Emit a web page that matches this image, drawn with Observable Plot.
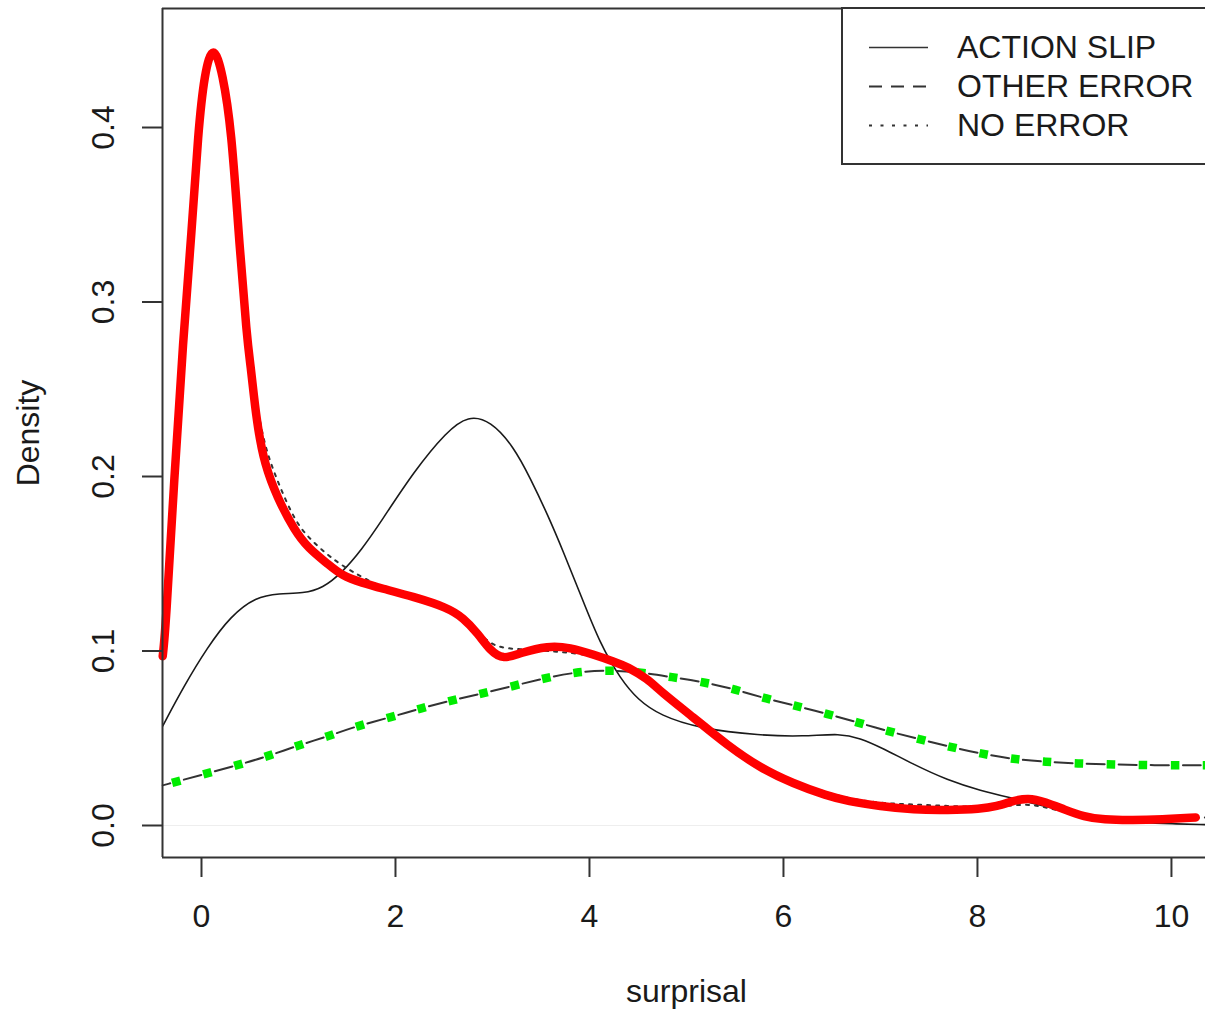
<!DOCTYPE html>
<html><head><meta charset="utf-8">
<script src="https://cdn.jsdelivr.net/npm/d3@7"></script>
<script src="https://cdn.jsdelivr.net/npm/@observablehq/plot@0.6"></script>
<style>
html,body{margin:0;padding:0;background:#fff;overflow:hidden}
#wrap{position:relative;width:1205px;height:1012px;overflow:hidden;font-family:"Liberation Sans",Arial,Helvetica,sans-serif}
#wrap svg{display:block}
</style></head><body><div id="wrap"></div>
<script>
// ---- data ----
const xTicks = [0, 2, 4, 6, 8, 10];
const yTicks = [0, 0.1, 0.2, 0.3, 0.4];
const xDomain = [-0.402, 10.351];
const yDomain = [-0.01834, 0.4682];
const seriesNames = ["ACTION SLIP", "OTHER ERROR", "NO ERROR"];

const actionX = [-0.4,-0.18,0.06,0.3,0.56,0.8,1.05,1.25,1.45,1.65,1.85,2.19,2.53,2.75,2.98,3.22,3.39,3.57,3.73,3.91,4.11,4.32,4.5,4.73,5.14,5.76,6.2,6.59,6.79,7.0,7.34,7.69,8.03,8.37,8.7,9.05,9.4,9.7,10.0,10.35];
const actionY = [0.057,0.080,0.102,0.120,0.131,0.133,0.133,0.136,0.145,0.158,0.174,0.203,0.226,0.235,0.232,0.217,0.199,0.178,0.157,0.132,0.104,0.084,0.072,0.063,0.0555,0.0516,0.051,0.0528,0.050,0.045,0.035,0.026,0.020,0.0155,0.011,0.006,0.003,0.0016,0.001,0.0005];

const otherX = [-0.4,0,0.4,0.7,1.0,1.3,1.6,1.95,2.25,2.6,3.0,3.5,3.86,4.2,4.5,4.85,5.2,5.5,5.8,6.1,6.45,6.77,7.08,7.4,7.72,8.05,8.37,8.7,9.03,9.4,9.8,10.35];
const otherY = [0.023,0.029,0.035,0.040,0.046,0.051,0.057,0.062,0.067,0.072,0.077,0.084,0.088,0.089,0.088,0.085,0.082,0.078,0.073,0.069,0.064,0.059,0.054,0.0495,0.045,0.041,0.038,0.0365,0.0355,0.035,0.0345,0.0345];

const noErrX = [-0.4,-0.37,-0.28,-0.19,-0.10,-0.034,0.03,0.12,0.22,0.31,0.38,0.47,0.51,0.55,0.6,0.67,0.8,0.96,1.1,1.3,1.45,1.66,2.0,2.3,2.5,2.7,2.85,3.01,3.29,3.57,3.91,4.08,4.25,4.39,4.6,4.73,5.07,5.42,5.76,6.1,6.45,6.66,7.0,7.34,7.7,8.03,8.3,8.55,8.8,9.1,9.4,9.8,10.35];
const noErrY = [0.097,0.112,0.2,0.278,0.341,0.398,0.431,0.449,0.431,0.398,0.345,0.282,0.266,0.249,0.232,0.214,0.195,0.175,0.165,0.155,0.149,0.142,0.133,0.128,0.125,0.121,0.111,0.102,0.101,0.100,0.0986,0.096,0.093,0.090,0.084,0.077,0.062,0.046,0.033,0.025,0.019,0.0155,0.0128,0.012,0.0112,0.0105,0.0112,0.0125,0.009,0.0055,0.004,0.0038,0.0046];

const redX = [-0.4,-0.37,-0.28,-0.19,-0.10,-0.034,0.03,0.12,0.22,0.31,0.38,0.47,0.51,0.54,0.58,0.65,0.78,0.96,1.1,1.30,1.45,1.66,1.85,2.19,2.53,2.70,2.85,2.98,3.11,3.29,3.57,3.8,4.04,4.25,4.39,4.6,4.73,5.07,5.42,5.76,6.1,6.45,6.66,7.0,7.34,7.7,8.03,8.2,8.36,8.52,8.7,8.9,9.1,9.3,9.6,9.9,10.25];
const redY = [0.097,0.112,0.2,0.278,0.341,0.398,0.431,0.449,0.431,0.398,0.341,0.278,0.262,0.246,0.228,0.207,0.188,0.169,0.159,0.150,0.143,0.139,0.136,0.131,0.125,0.119,0.110,0.100,0.095,0.099,0.103,0.102,0.098,0.094,0.091,0.084,0.077,0.062,0.046,0.033,0.024,0.017,0.014,0.011,0.009,0.0088,0.0095,0.011,0.014,0.016,0.0135,0.009,0.005,0.0033,0.003,0.0035,0.0046];

const toRows = (xs, ys) => xs.map((x, i) => ({x, y: ys[i]}));
const action = toRows(actionX, actionY);
const other = toRows(otherX, otherY);
const noErr = toRows(noErrX, noErrY);
const red = toRows(redX, redY);

const FONT = '"Liberation Sans", Arial, Helvetica, sans-serif';
const CURVE = "basis";

const chart = Plot.plot({
  width: 1205, height: 1012,
  marginLeft: 162, marginRight: 0, marginTop: 8, marginBottom: 155,
  style: {fontFamily: FONT, fontSize: "32px", color: "#1a1a1a", background: "transparent"},
  x: {domain: xDomain},
  y: {domain: yDomain},
  marks: [
    Plot.ruleY([0], {stroke: "#eeeeee", strokeWidth: 1}),
    Plot.line(action, {x: "x", y: "y", stroke: "#1a1a1a", strokeWidth: 1.6, curve: CURVE}),
    Plot.line(other, {x: "x", y: "y", stroke: "#333", strokeWidth: 2, strokeDasharray: "18 14", strokeDashoffset: 10, curve: CURVE}),
    Plot.line(noErr, {x: "x", y: "y", stroke: "#333", strokeWidth: 2, strokeDasharray: "3 6", curve: CURVE}),
    Plot.line(other, {x: "x", y: "y", stroke: "#00ec00", strokeWidth: 8.5, strokeDasharray: "8.5 23.5", strokeDashoffset: 22, strokeLinecap: "butt", curve: CURVE}),
    Plot.line(red, {x: "x", y: "y", stroke: "#ff0000", strokeWidth: 8.5, strokeLinecap: "round", strokeLinejoin: "round", curve: CURVE}),
    Plot.ruleX([xDomain[0]], {stroke: "#333", strokeWidth: 2}),
    Plot.ruleY(yDomain, {stroke: "#333", strokeWidth: 2}),
    Plot.axisX({ticks: xTicks, tickSize: 20, tickPadding: 27, tickFormat: d => String(d), label: null, fontSize: 32, strokeWidth: 2, stroke: "#333"}),
    Plot.axisY({ticks: yTicks, tickSize: 20, tickPadding: 29, tickRotate: -90, tickFormat: d3.format(".1f"), label: null, fontSize: 32, strokeWidth: 2, stroke: "#333"}),
    Plot.text(["surprisal"], {text: d => d, frameAnchor: "bottom", dy: 144, dx: 2.5, lineAnchor: "bottom", textAnchor: "middle", fontSize: 32, fill: "#1a1a1a"}),
    Plot.text(["Density"], {text: d => d, frameAnchor: "left", dx: -124, rotate: -90, lineAnchor: "bottom", textAnchor: "middle", fontSize: 32, fill: "#1a1a1a"})
  ]
});
document.getElementById("wrap").appendChild(chart);

// ---- legend (R-style box, top right, extends past the edge) ----
const legendDash = [null, "13 9", "3 8.5"];
const legendWidth = [1.6, 2, 2];
const leg = d3.select("#wrap").append("svg")
  .attr("width", 1205).attr("height", 1012)
  .style("position", "absolute").style("left", "0px").style("top", "0px")
  .style("pointer-events", "none");
leg.append("rect").attr("x", 842).attr("y", 8).attr("width", 420).attr("height", 156)
  .attr("fill", "#fff").attr("stroke", "#333").attr("stroke-width", 2);
seriesNames.forEach((name, i) => {
  const cy = 47.5 + i * 39;
  const ln = leg.append("line").attr("x1", 869).attr("x2", 928).attr("y1", cy).attr("y2", cy)
    .attr("stroke", "#333").attr("stroke-width", legendWidth[i]);
  if (legendDash[i]) ln.attr("stroke-dasharray", legendDash[i]);
  leg.append("text").attr("x", 957).attr("y", cy + 10).attr("font-family", FONT)
    .attr("font-size", 32).attr("fill", "#1a1a1a").text(name);
});
</script>
</body></html>
